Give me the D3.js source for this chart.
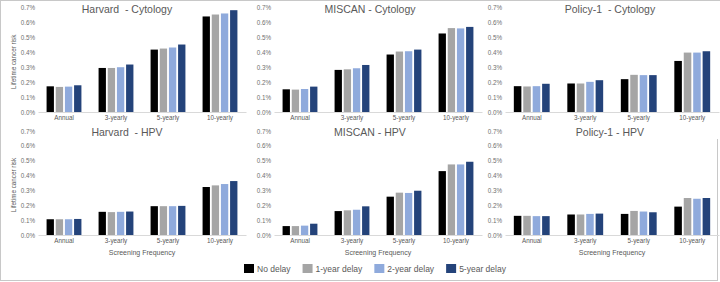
<!DOCTYPE html>
<html>
<head>
<meta charset="utf-8">
<script src="https://cdn.jsdelivr.net/npm/d3@7"></script>
<style>
  html,body{margin:0;padding:0;background:#fff;}
  svg{display:block;font-family:"Liberation Sans",Arial,sans-serif;}
  .ttl{white-space:pre;}
</style>
</head>
<body>
<svg id="chart" width="720" height="282"></svg>
<script>
const categories=["Annual","3-yearly","5-yearly","10-yearly"];
const series=["No delay","1-year delay","2-year delay","5-year delay"];
const colors=["#000000","#a5a5a5","#8faadc","#24437a"];
const yTicks=[0,0.1,0.2,0.3,0.4,0.5,0.6,0.7];

// lifetime cancer risk (%), rows = categories, cols = series
const harvardCytology=[[0.172,0.168,0.170,0.179],[0.295,0.295,0.300,0.318],[0.418,0.425,0.432,0.452],[0.640,0.653,0.660,0.682]];
const miscanCytology=[[0.152,0.150,0.154,0.170],[0.282,0.286,0.293,0.315],[0.385,0.405,0.407,0.418],[0.526,0.562,0.560,0.570]];
const policyCytology=[[0.173,0.171,0.173,0.189],[0.191,0.191,0.202,0.213],[0.220,0.249,0.247,0.247],[0.342,0.398,0.398,0.407]];
const harvardHPV=[[0.106,0.106,0.106,0.108],[0.156,0.154,0.156,0.158],[0.194,0.194,0.194,0.196],[0.323,0.334,0.343,0.363]];
const miscanHPV=[[0.060,0.060,0.063,0.076],[0.161,0.166,0.170,0.193],[0.258,0.285,0.283,0.298],[0.430,0.475,0.475,0.493]];
const policyHPV=[[0.129,0.129,0.127,0.127],[0.138,0.138,0.142,0.144],[0.142,0.162,0.158,0.153],[0.191,0.249,0.244,0.249]];

const panels=[
  {title:"Harvard  - Cytology",data:harvardCytology,col:0,row:0},
  {title:"MISCAN - Cytology",data:miscanCytology,col:1,row:0},
  {title:"Policy-1  - Cytology",data:policyCytology,col:2,row:0},
  {title:"Harvard  - HPV",data:harvardHPV,col:0,row:1},
  {title:"MISCAN - HPV",data:miscanHPV,col:1,row:1},
  {title:"Policy-1 - HPV",data:policyHPV,col:2,row:1}
];

const colX=[[38,246],[274,482],[505,719]];
const titleX=[127,370,610];
const rowY=[[112,7.5],[235,131]];
const txt="#595959";

const svg=d3.select("#chart");

// frame
const frame=svg.append("g").attr("stroke","#c8c8c8").attr("stroke-width",1);
frame.append("line").attr("x1",0).attr("x2",720).attr("y1",0.5).attr("y2",0.5);
frame.append("line").attr("x1",0.5).attr("x2",0.5).attr("y1",0).attr("y2",281);
frame.append("line").attr("x1",0).attr("x2",718).attr("y1",280.5).attr("y2",280.5);
frame.append("line").attr("x1",717.5).attr("x2",717.5).attr("y1",139).attr("y2",281);

panels.forEach(p=>{
  const g=svg.append("g");
  const [xa,xb]=colX[p.col];
  const [ya,yb]=rowY[p.row];
  const x0=d3.scaleBand().domain(categories).range([xa,xb]).paddingInner(0.33).paddingOuter(0.165);
  const x1=d3.scaleBand().domain(d3.range(series.length)).range([0,x0.bandwidth()]).paddingInner(0.2);
  const y=d3.scaleLinear().domain([0,0.7]).range([ya,yb]);

  // y tick labels
  const ay=g.append("g").attr("transform",`translate(${xa},0)`)
    .call(d3.axisLeft(y).tickValues(yTicks).tickSize(0).tickPadding(3).tickFormat(d=>d3.format(".1f")(d)+"%"));
  ay.select(".domain").remove();
  ay.selectAll("text").attr("fill","#6f6f6f").attr("font-size","6.3px").attr("font-family","Liberation Sans, Arial, sans-serif");

  // bars
  g.selectAll(".grp").data(p.data).enter().append("g")
    .attr("transform",(d,i)=>`translate(${x0(categories[i])},0)`)
    .selectAll("rect").data(d=>d).enter().append("rect")
    .attr("x",(d,j)=>x1(j))
    .attr("width",x1.bandwidth())
    .attr("y",d=>y(d))
    .attr("height",d=>y(0)-y(d))
    .attr("fill",(d,j)=>colors[j]);

  // baseline + category labels
  const ax=g.append("g").attr("transform",`translate(0,${ya})`)
    .call(d3.axisBottom(x0).tickSize(0).tickPadding(4));
  ax.select(".domain").attr("stroke","#d9d9d9");
  ax.selectAll("text").attr("fill",txt).attr("font-size","6.3px").attr("font-family","Liberation Sans, Arial, sans-serif");

  g.append("text").attr("class","ttl").attr("x",titleX[p.col]).attr("y",yb+5).attr("text-anchor","middle")
    .attr("fill",txt).attr("font-size","10.5px").text(p.title);

  if(p.col===0){
    g.append("text").attr("transform",`translate(${16},${(ya+yb)/2+2}) rotate(-90)`)
      .attr("text-anchor","middle").attr("fill",txt).attr("font-size","6.3px").text("Lifetime cancer risk");
  }
  if(p.row===1){
    g.append("text").attr("x",(xa+xb)/2).attr("y",ya+20).attr("text-anchor","middle")
      .attr("fill",txt).attr("font-size","7px").text("Screening Frequency");
  }
});

// legend
const lg=svg.append("g").attr("transform","translate(244,264)");
let lx=0;
series.forEach((s,i)=>{
  const it=lg.append("g").attr("transform",`translate(${lx},0)`);
  it.append("rect").attr("width",10).attr("height",9).attr("fill",colors[i]);
  const t=it.append("text").attr("x",13).attr("y",8).attr("fill",txt).attr("font-size","8.5px").text(s);
  lx+=13+t.node().getComputedTextLength()+12;
});
</script>
</body>
</html>
